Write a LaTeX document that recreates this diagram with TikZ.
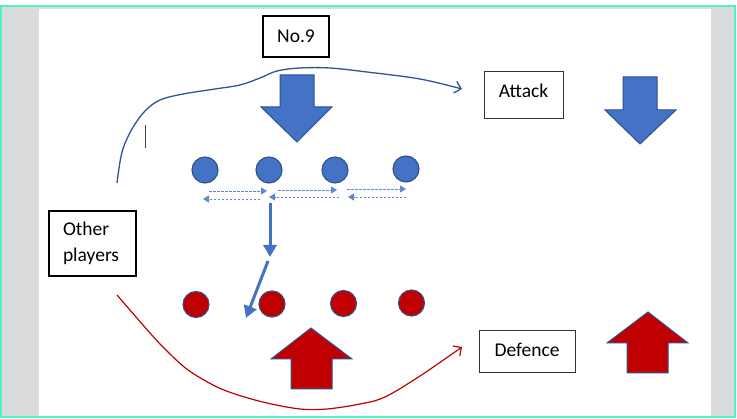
\documentclass[tikz,border=0pt]{standalone}
\usepackage{fontspec}
\setmainfont{Carlito}
\usetikzlibrary{arrows.meta}
\definecolor{obl}{HTML}{4472C4}
\definecolor{oln}{HTML}{2F528F}
\definecolor{ored}{HTML}{C00000}
\definecolor{cblue}{HTML}{2F5597}
\definecolor{grn}{HTML}{55F0C4}
\definecolor{gry}{HTML}{DADBDD}
\begin{document}
\begin{tikzpicture}[x=1pt,y=-1pt,
  txt/.style={font=\fontsize{19.5}{26}\selectfont, inner sep=0pt},
  lbox/.style={txt, draw=black!80, line width=1pt},
  bluebody/.style={fill=obl, draw=oln, line width=1pt, line join=miter},
  redbody/.style={fill=ored, draw=oln, line width=1pt, line join=miter},
  bdot/.style={circle, minimum size=26pt, inner sep=0pt, fill=obl, draw=oln, line width=1.1pt},
  rdot/.style={circle, minimum size=26pt, inner sep=0pt, fill=ored, draw=oln, line width=1.1pt},
  dsh/.style={draw=obl!85, line width=0.9pt, dash pattern=on 2.5pt off 1.5pt, -{Triangle[length=6pt,width=7pt]}},
  thick arr/.style={draw=obl, line width=3pt, -{Triangle[length=12pt,width=13pt]}},
  curv/.style={line width=1.3pt, -{Straight Barb[length=6pt,width=12pt]}}
]
\useasboundingbox (0,0) rectangle (737,419);
\fill[white] (0,0) rectangle (737,419);
\fill[gry] (1,6) rectangle (735,417);
\fill[white] (39,9) rectangle (711,416);
\draw[grn, line width=2.5pt] (1,6) rectangle (735,417);

% text boxes
\node[txt, draw=black, line width=1.3pt, minimum width=66pt, minimum height=41pt] (no9) at (296,36.5) {No.9};
\node[lbox, minimum width=79pt, minimum height=47pt, text depth=9pt] (att) at (523.5,95.5) {Attack};
\node[lbox, minimum width=96pt, minimum height=42pt, text depth=4pt] (def) at (527,352) {Defence};
\node[txt, draw=black, line width=2pt, minimum height=65pt, text width=59pt, inner xsep=14pt, align=left] (oth) at (92.5,243.5) {Other\\players};

% block arrows
\fill[bluebody] (280,75) -- (314,75) -- (314,107) -- (332,107) -- (297,142) -- (261,107) -- (280,107) -- cycle;
\fill[bluebody] (623,77) -- (657,77) -- (657,110) -- (676,110) -- (640,144) -- (605,110) -- (623,110) -- cycle;
\fill[redbody] (311,328) -- (352,359) -- (332,359) -- (332,389) -- (291,389) -- (291,359) -- (271,359) -- cycle;
\fill[redbody] (648,312) -- (688,343) -- (668,343) -- (668,373) -- (627,373) -- (627,343) -- (607,343) -- cycle;

% players
\node[bdot] (b1) at (205,170) {};
\node[bdot] (b2) at (269,170) {};
\node[bdot] (b3) at (335,170) {};
\node[bdot] (b4) at (406,169) {};
\node[rdot] (r1) at (196,304.5) {};
\node[rdot] (r2) at (272,304) {};
\node[rdot] (r3) at (343.5,303.5) {};
\node[rdot] (r4) at (411.5,303) {};

% passing arrows
\coordinate (p1a) at (209,191); \coordinate (p1b) at (267,191);
\coordinate (p2a) at (278,190); \coordinate (p2b) at (337,190);
\coordinate (p3a) at (347,189); \coordinate (p3b) at (406,189);
\coordinate (q1a) at (260,199); \coordinate (q1b) at (203,199);
\coordinate (q2a) at (339,197); \coordinate (q2b) at (269,197);
\coordinate (q3a) at (406,197); \coordinate (q3b) at (348,197);
\draw[dsh] (p1a) -- (p1b);
\draw[dsh] (p2a) -- (p2b);
\draw[dsh] (p3a) -- (p3b);
\draw[dsh] (q1a) -- (q1b);
\draw[dsh] (q2a) -- (q2b);
\draw[dsh] (q3a) -- (q3b);

% solid run arrows
\coordinate (s1a) at (270,203); \coordinate (s1b) at (270,257);
\coordinate (s2a) at (268,261); \coordinate (s2b) at (246,318);
\draw[thick arr] (s1a) -- (s1b);
\draw[thick arr] (s2a) -- (s2b);

% curves
\coordinate (bs) at (117,183); \coordinate (be) at (462,89);
\coordinate (rs) at (117,295); \coordinate (re) at (462,347);
\draw[curv, cblue] plot[smooth, tension=0.55] coordinates {(bs) (122,152) (132,129) (145,111) (160,100) (183,94) (215,89) (240,85) (260,78) (277,71) (300,68) (330,68) (367,72) (420,79) (be)};
\draw[curv, ored, line width=1.2pt] plot[smooth, tension=0.55] coordinates {(rs) (150,333) (167,351) (188,370) (215,386) (238,395) (267,403) (300,409) (327,409) (360,404) (385,397) (420,376) (re)};

% cursor mark
\draw[black!75, line width=0.8pt] (145,125) -- (145,148);
\end{tikzpicture}
\end{document}
